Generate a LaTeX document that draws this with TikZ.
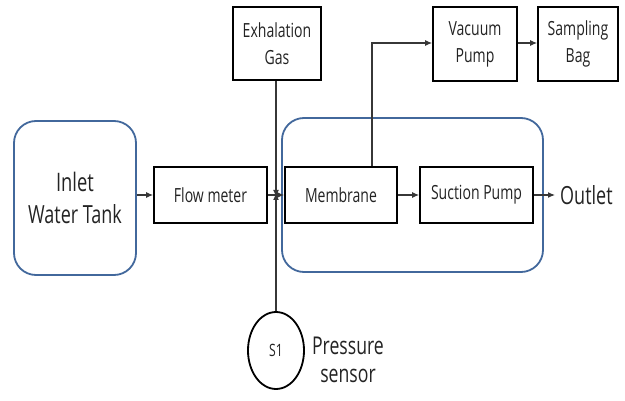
\documentclass[tikz,border=0pt]{standalone}
\usepackage{fontspec}
\setmainfont{Open Sans}[FakeStretch=0.72]
\usetikzlibrary{arrows.meta,shapes.geometric}
\definecolor{tankblue}{RGB}{66,104,156}
\definecolor{txt}{RGB}{35,35,35}
\definecolor{conn}{RGB}{55,55,55}
\tikzset{
  blk/.style={draw=black, line width=1.8pt, inner sep=0pt, align=center, text=txt,
    font=\fontsize{19.5}{27}\selectfont},
  bluebox/.style={draw=tankblue, line width=1.8pt, rounded corners=22pt, inner sep=0pt},
  bigtxt/.style={text=txt, align=center, font=\fontsize{25}{32}\selectfont, inner sep=0pt},
  conn/.style={draw=conn, line width=1.1pt, -{Latex[length=7pt,width=6pt]}},
}
\begin{document}
\begin{tikzpicture}[x=1pt,y=-1pt]
\useasboundingbox (0,0) rectangle (625,401);
% blue enclosures
\node[bluebox, minimum width=261pt, minimum height=154pt] (grp) at (412.5,195) {};
\node[bluebox, minimum width=122pt, minimum height=154pt, bigtxt] (tank) at (75,198)
  {\fontsize{25.5}{34}\selectfont Inlet\\Water Tank};
% blocks
\node[blk, minimum width=113pt, minimum height=56pt] (flow) at (210.5,195) {Flow meter};
\node[blk, minimum width=112pt, minimum height=56pt] (mem) at (341,195) {Membrane};
\node[blk, minimum width=113pt, minimum height=56pt] (suc) at (476.5,195) {Suction Pump};
\node[blk, minimum width=88pt, minimum height=73pt] (exh) at (277,43.5) {Exhalation\\Gas};
\node[blk, minimum width=84pt, minimum height=74pt] (vac) at (475,44) {Vacuum\\Pump};
\node[blk, minimum width=80pt, minimum height=74pt] (bag) at (578,44) {Sampling\\Bag};
\node[ellipse, draw=black, line width=1.8pt, minimum width=56pt, minimum height=77pt,
  inner sep=0pt, text=txt, font=\fontsize{17}{20}\selectfont] (s1) at (276,350.5) {S1};
\node[bigtxt, anchor=west, inner xsep=5pt] (out) at (555,195) {Outlet};
\node[bigtxt, font=\fontsize{24.5}{28}\selectfont] (ps) at (348,360) {Pressure\\sensor};
% junction
\coordinate (jn) at (276,195);
% connectors
\draw[conn] (tank.east |- flow.west) -- (flow.west);
\draw[conn] (flow.east) -- (mem.west);
\draw[conn] (exh.south -| jn) -- ([yshift=-2pt]jn);
\draw[conn] (s1.north) -- ([yshift=2pt]jn);
\coordinate (up) at (372,43);
\draw[conn] (mem.north -| up) -- (up) -- (vac.west |- up);
\draw[conn] (vac.east |- up) -- (bag.west |- up);
\draw[conn] (mem.east) -- (suc.west);
\draw[conn] (suc.east) -- (out.west);
\end{tikzpicture}
\end{document}
